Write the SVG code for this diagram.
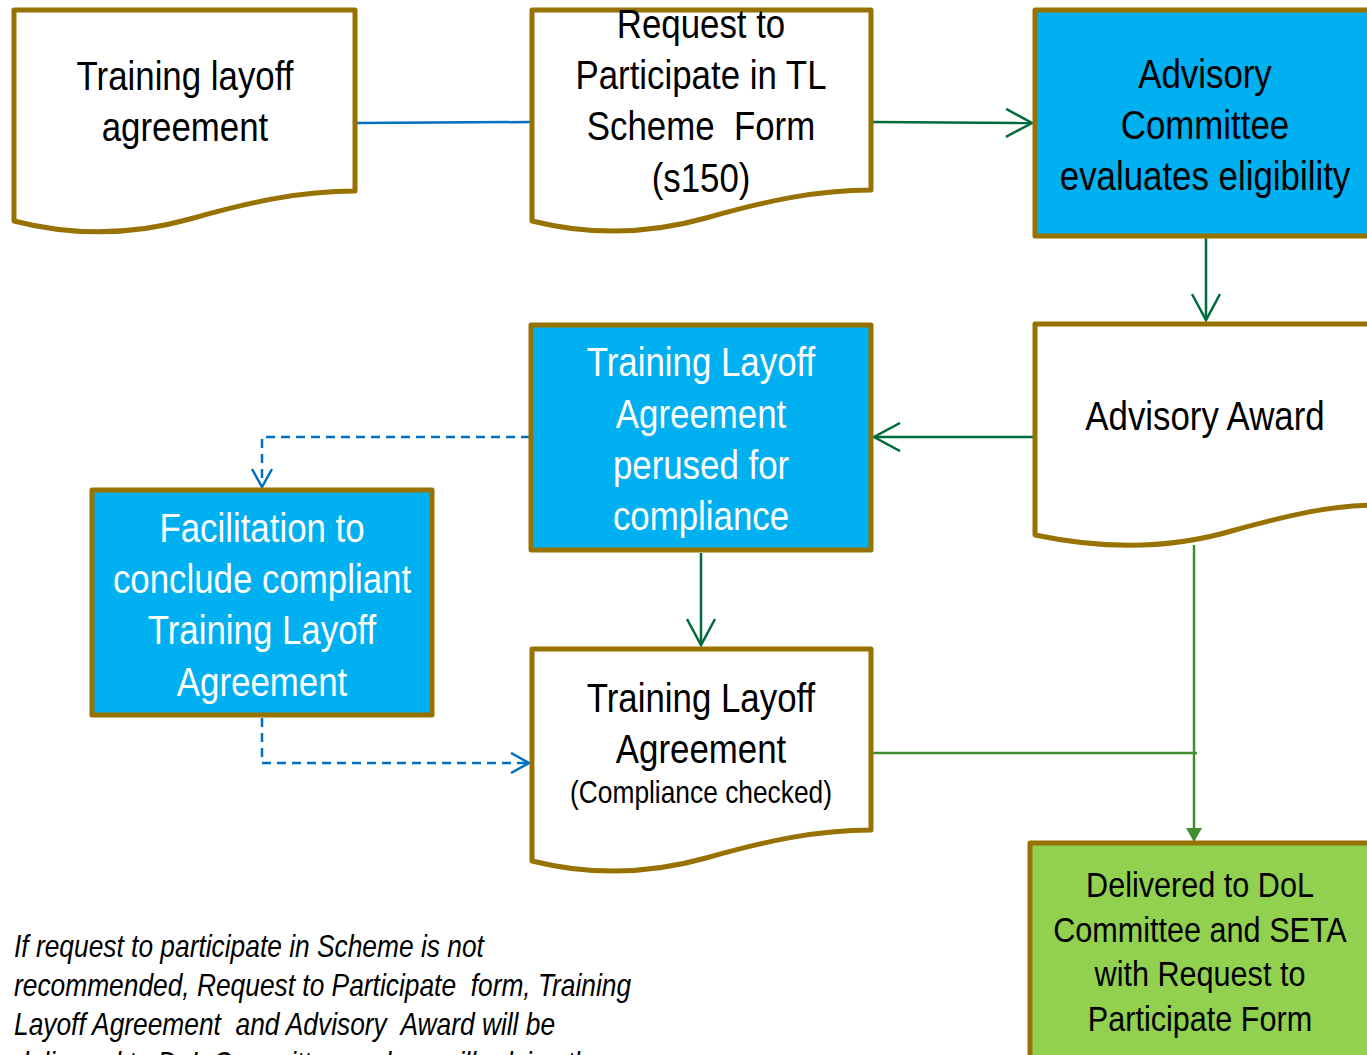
<svg xmlns="http://www.w3.org/2000/svg" width="1367" height="1055" viewBox="0 0 1367 1055" xml:space="preserve">
<defs>
<style>
.doc{fill:#ffffff;stroke:#987200;stroke-width:5;stroke-linejoin:round}
.proc{fill:#00B0F0;stroke:#987200;stroke-width:5;stroke-linejoin:round}
.grn{fill:#92D050;stroke:#987200;stroke-width:5;stroke-linejoin:round}
text{font-family:"Liberation Sans","Arial",sans-serif;text-anchor:middle;white-space:pre}
.t{font-size:41px;fill:#000}
.w{font-size:41px;fill:#ffffff}
.s{font-size:31px;fill:#000}
.g{font-size:36px;fill:#000}
.note{font-size:31px;fill:#000;font-style:italic;text-anchor:start}
.cg{stroke:#006B3C;stroke-width:2.5;fill:none}
.cb{stroke:#0070C0;stroke-width:2.5;fill:none}
.cbd{stroke:#0070C0;stroke-width:2.5;fill:none;stroke-dasharray:9 6}
.cl{stroke:#3F8F2F;stroke-width:2.5;fill:none}
</style>
<marker id="ag" markerWidth="30" markerHeight="30" refX="27" refY="15" orient="auto" markerUnits="userSpaceOnUse"><path d="M1,1 L27,15 L1,29" fill="none" stroke="#006B3C" stroke-width="2.5"/></marker>
<marker id="ab" markerWidth="22" markerHeight="22" refX="19" refY="11" orient="auto" markerUnits="userSpaceOnUse"><path d="M1,1 L19,11 L1,21" fill="none" stroke="#0070C0" stroke-width="2.5"/></marker>
<marker id="at" markerWidth="16" markerHeight="16" refX="14" refY="8" orient="auto" markerUnits="userSpaceOnUse"><path d="M0,0 L14,8 L0,16 Z" fill="#3F8F2F"/></marker>
</defs>
<rect width="1367" height="1055" fill="#ffffff"/>

<g id="connectors">
<path class="cb" d="M357,123 L531,122"/>
<path class="cg" d="M873,122 L1032,123" marker-end="url(#ag)"/>
<path class="cg" d="M1206,237 L1206,320" marker-end="url(#ag)"/>
<path class="cg" d="M1034,437 L874,437" marker-end="url(#ag)"/>
<path class="cg" d="M701,553 L701,645" marker-end="url(#ag)"/>
<path class="cbd" d="M530,437 L262,437 L262,487" marker-end="url(#ab)"/>
<path class="cbd" d="M262,718 L262,763 L529,763" marker-end="url(#ab)"/>
<path class="cl" d="M864,753 L1197,753"/>
<path class="cl" d="M1194,545 L1194,842" marker-end="url(#at)"/>
</g>

<g id="node-training-layoff-agreement">
<path class="doc" d="M14,10 H355 V191 C300,191 250,202 190,219 C140,233 80,238 14,221 Z"/>
<text class="t" transform="translate(185,90) scale(.85,1)">Training layoff</text>
<text class="t" transform="translate(185,141) scale(.85,1)">agreement</text>
</g>

<g id="node-request-form">
<path class="doc" d="M532,10 H871 V190 C816,190 766,201 706,218 C656,232 596,237 532,221 Z"/>
<text class="t" transform="translate(701,38) scale(.85,1)">Request to</text>
<text class="t" transform="translate(701,89) scale(.85,1)">Participate in TL</text>
<text class="t" transform="translate(701,140) scale(.85,1)">Scheme  Form</text>
<text class="t" transform="translate(701,192) scale(.85,1)">(s150)</text>
</g>

<g id="node-advisory-committee">
<rect class="proc" x="1035" y="10" width="345" height="226"/>
<text class="t" transform="translate(1205,88) scale(.85,1)">Advisory</text>
<text class="t" transform="translate(1205,139) scale(.85,1)">Committee</text>
<text class="t" transform="translate(1205,190) scale(.85,1)">evaluates eligibility</text>
</g>

<g id="node-advisory-award">
<path class="doc" d="M1035,324 H1380 V505 C1330,505 1290,515 1235,530 C1185,545 1120,553 1035,535 Z"/>
<text class="t" transform="translate(1205,430) scale(.85,1)">Advisory Award</text>
</g>

<g id="node-tla-perused">
<rect class="proc" x="531" y="325" width="340" height="225"/>
<text class="w" transform="translate(701,376) scale(.85,1)">Training Layoff</text>
<text class="w" transform="translate(701,428) scale(.85,1)">Agreement</text>
<text class="w" transform="translate(701,479) scale(.85,1)">perused for</text>
<text class="w" transform="translate(701,530) scale(.85,1)">compliance</text>
</g>

<g id="node-facilitation">
<rect class="proc" x="92" y="490" width="340" height="225"/>
<text class="w" transform="translate(262,542) scale(.85,1)">Facilitation to</text>
<text class="w" transform="translate(262,593) scale(.85,1)">conclude compliant</text>
<text class="w" transform="translate(262,644) scale(.85,1)">Training Layoff</text>
<text class="w" transform="translate(262,696) scale(.85,1)">Agreement</text>
</g>

<g id="node-tla-checked">
<path class="doc" d="M532,649 H871 V830 C816,830 766,841 706,858 C656,872 596,877 532,861 Z"/>
<text class="t" transform="translate(701,712) scale(.85,1)">Training Layoff</text>
<text class="t" transform="translate(701,763) scale(.85,1)">Agreement</text>
<text class="s" transform="translate(701,803) scale(.85,1)">(Compliance checked)</text>
</g>

<g id="node-delivered">
<rect class="grn" x="1030" y="843" width="350" height="230"/>
<text class="g" transform="translate(1200,897) scale(.85,1)">Delivered to DoL</text>
<text class="g" transform="translate(1200,942) scale(.85,1)">Committee and SETA</text>
<text class="g" transform="translate(1200,986) scale(.85,1)">with Request to</text>
<text class="g" transform="translate(1200,1031) scale(.85,1)">Participate Form</text>
</g>

<g id="note">
<text class="note" transform="translate(14,957) scale(.85,1)">If request to participate in Scheme is not</text>
<text class="note" transform="translate(14,996) scale(.85,1)">recommended, Request to Participate  form, Training</text>
<text class="note" transform="translate(14,1035) scale(.85,1)">Layoff Agreement  and Advisory  Award will be</text>
<text class="note" transform="translate(14,1074) scale(.85,1)">delivered to DoL Committee and we will advise the</text>
</g>
</svg>
